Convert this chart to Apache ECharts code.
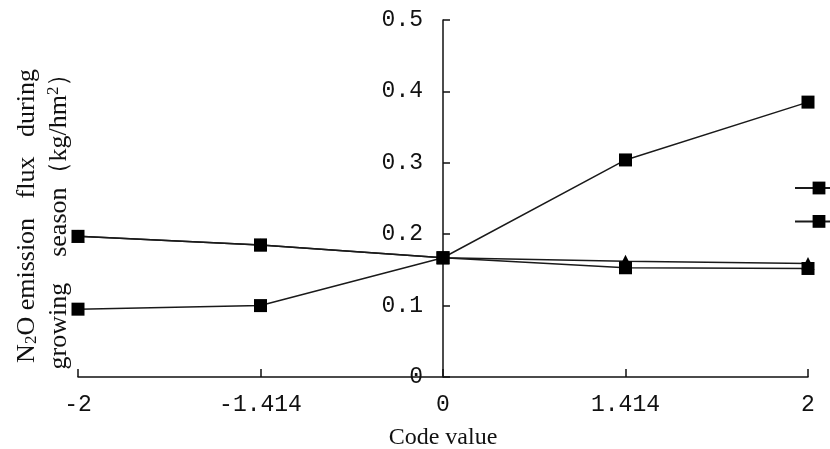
<!DOCTYPE html>
<html>
<head>
<meta charset="utf-8">
<script src="https://cdn.jsdelivr.net/npm/echarts@6/dist/echarts.min.js"></script>
<style>
html,body{margin:0;padding:0;background:#fff;}
#main{width:830px;height:449px;}
</style>
</head>
<body>
<div id="main"></div>
<script>
// Tick labels of the coded x axis (equally spaced levels)
var xTickLabels = ['-2', '-1.414', '0', '1.414', '2'];
// Position index of each coded level (level i sits at i-2)
var xPositions = [-2, -1, 0, 1, 2];
// Series values (kg/hm2)
var seriesRising = [0.095, 0.100, 0.167, 0.304, 0.385];
var seriesFalling = [0.197, 0.185, 0.167, 0.153, 0.152];
var seriesTriangle = [0.197, 0.185, 0.167, 0.162, 0.159];

function pairs(vals) {
  return vals.map(function (v, i) { return [xPositions[i], v]; });
}

var serif = 'Liberation Serif';
var mono = 'Liberation Mono';
var chart = echarts.init(document.getElementById('main'));
var lineStyle = { color: '#1a1a1a', width: 1.5 };
var gridLeft = 78, gridRight = 22;
var gridW = 830 - gridLeft - gridRight;
chart.setOption({
  animation: false,
  backgroundColor: '#fff',
  grid: { left: gridLeft, right: gridRight, top: 20, bottom: 72, outerBoundsMode: 'none', containLabel: false },
  legend: {
    left: 789, top: 175, orient: 'vertical',
    itemWidth: 48, itemHeight: 16, itemGap: 19,
    formatter: function () { return ''; },
    data: ['Series A', 'Series B'],
    textStyle: { fontSize: 1 }
  },
  xAxis: {
    type: 'value', min: -2, max: 2, interval: 1,
    name: 'Code value', nameLocation: 'middle', nameGap: 49,
    nameTextStyle: { fontFamily: serif, fontSize: 24, color: '#111' },
    axisLine: { lineStyle: { color: '#111', width: 1.5 } },
    axisTick: { inside: true, length: 8, lineStyle: { color: '#111', width: 1.5 } },
    axisLabel: {
      fontFamily: mono, fontSize: 23, color: '#111', margin: 16,
      formatter: function (v) { return xTickLabels[Math.round(v) + 2]; }
    },
    splitLine: { show: false }
  },
  yAxis: {
    type: 'value', min: 0, max: 0.5, interval: 0.1,
    position: 'left', offset: -gridW / 2,
    axisLine: { show: true, onZero: false, lineStyle: { color: '#111', width: 1.5 } },
    axisTick: { show: true, inside: true, length: 7, lineStyle: { color: '#111', width: 1.5 } },
    axisLabel: {
      fontFamily: mono, fontSize: 23, color: '#111', margin: 20,
      formatter: function (v) { return v === 0 ? '0' : v.toFixed(1); }
    },
    splitLine: { show: false }
  },
  series: [
    {
      name: 'Series C', type: 'line', data: pairs(seriesTriangle),
      symbol: 'triangle', symbolSize: 13, itemStyle: { color: '#000' },
      lineStyle: lineStyle, z: 2
    },
    {
      name: 'Series A', type: 'line', data: pairs(seriesRising),
      symbol: 'rect', symbolSize: 13, itemStyle: { color: '#000' },
      lineStyle: lineStyle, z: 3
    },
    {
      name: 'Series B', type: 'line', data: pairs(seriesFalling),
      symbol: 'rect', symbolSize: 13, itemStyle: { color: '#000' },
      lineStyle: lineStyle, z: 3
    }
  ],
  graphic: [
    {
      type: 'text', x: 27, y: 216, rotation: Math.PI / 2,
      style: {
        text: '{n|N}{s|2}{n|O emission   flux   during}',
        align: 'center', verticalAlign: 'middle',
        rich: {
          n: { fontFamily: serif, fontSize: 26, fill: '#111' },
          s: { fontFamily: serif, fontSize: 17, fill: '#111', padding: [10, 0, 0, 0] }
        }
      }
    },
    {
      type: 'text', x: 59, y: 215, rotation: Math.PI / 2,
      style: {
        text: '{n|growing    season（kg/hm}{p|2}{n|）}',
        align: 'center', verticalAlign: 'middle',
        rich: {
          n: { fontFamily: serif, fontSize: 26, fill: '#111' },
          p: { fontFamily: serif, fontSize: 17, fill: '#111', padding: [0, 0, 10, 0] }
        }
      }
    }
  ]
});
</script>
</body>
</html>
